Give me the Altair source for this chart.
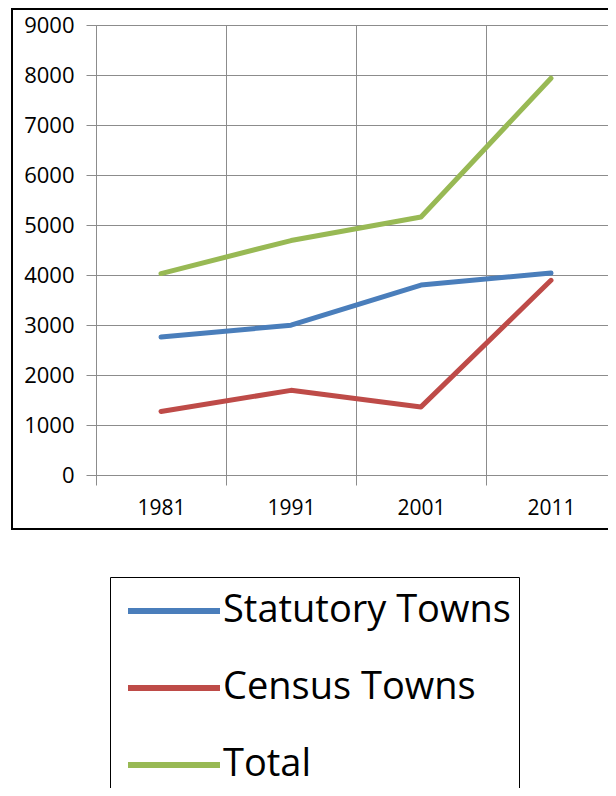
import altair as alt
import pandas as pd

years = ["1981", "1991", "2001", "2011"]
series = ["Statutory Towns", "Census Towns", "Total"]
statutory = [2758, 2996, 3799, 4041]
census = [1271, 1693, 1362, 3894]
total = [4029, 4689, 5161, 7935]
colors = ["#4A7EBB", "#BE4B48", "#98B954"]
y_ticks = [0, 1000, 2000, 3000, 4000, 5000, 6000, 7000, 8000, 9000]

rows = []
for name, vals in zip(series, [statutory, census, total]):
    for yr, v in zip(years, vals):
        rows.append({"Year": yr, "Series": name, "Value": v})
df = pd.DataFrame(rows)

grid_col = "#8C8C8C"
font = "Open Sans"

border = alt.Chart(pd.DataFrame({"a": [0]})).mark_rect(
    fill="transparent", stroke="black", strokeWidth=2
).encode(
    x=alt.value(-84), x2=alt.value(700), y=alt.value(-16), y2=alt.value(504)
)

lines = alt.Chart(df).mark_line(strokeWidth=5, strokeCap="round", strokeJoin="round").encode(
    x=alt.X(
        "Year:O", sort=years, bandPosition=0.5,
        scale=alt.Scale(type="band", paddingInner=0, paddingOuter=0),
        axis=alt.Axis(
            title=None, labelAngle=0, tickBand="extent", grid=True,
            gridColor=grid_col, gridWidth=1, gridOpacity=1,
            domainColor=grid_col, tickColor=grid_col, tickSize=10,
            labelFont=font, labelFontSize=21, labelColor="black",
            labelPadding=12,
        ),
    ),
    y=alt.Y(
        "Value:Q",
        scale=alt.Scale(domain=[0, 9000], nice=False),
        axis=alt.Axis(
            title=None, values=y_ticks, format="d", grid=True,
            gridColor=grid_col, gridWidth=1, gridOpacity=1,
            domainColor=grid_col, tickColor=grid_col, tickSize=10,
            labelFont=font, labelFontSize=22, labelColor="black",
            labelPadding=12,
        ),
    ),
    color=alt.Color(
        "Series:N", sort=series,
        scale=alt.Scale(domain=series, range=colors),
        legend=alt.Legend(
            title=None, orient="none", legendX=14, legendY=552,
            direction="vertical",
            symbolType="M-2,0H2", symbolSize=2116, symbolStrokeWidth=6,
            symbolOffset=30,
            labelFont=font, labelFontSize=38, labelColor="black",
            labelOffset=23, labelLimit=500, padding=8, rowPadding=32,
            strokeColor="black", fillColor="white", cornerRadius=0,
        ),
    ),
)

chart = alt.layer(border, lines).properties(
    width=520, height=450,
    autosize=alt.AutoSizeParams(type="none"),
    padding={"left": 88, "top": 17, "right": -8, "bottom": 313},
).configure_view(stroke=None).configure(background="white")

chart.save("out.html", embed_options={"renderer": "svg", "actions": False})
